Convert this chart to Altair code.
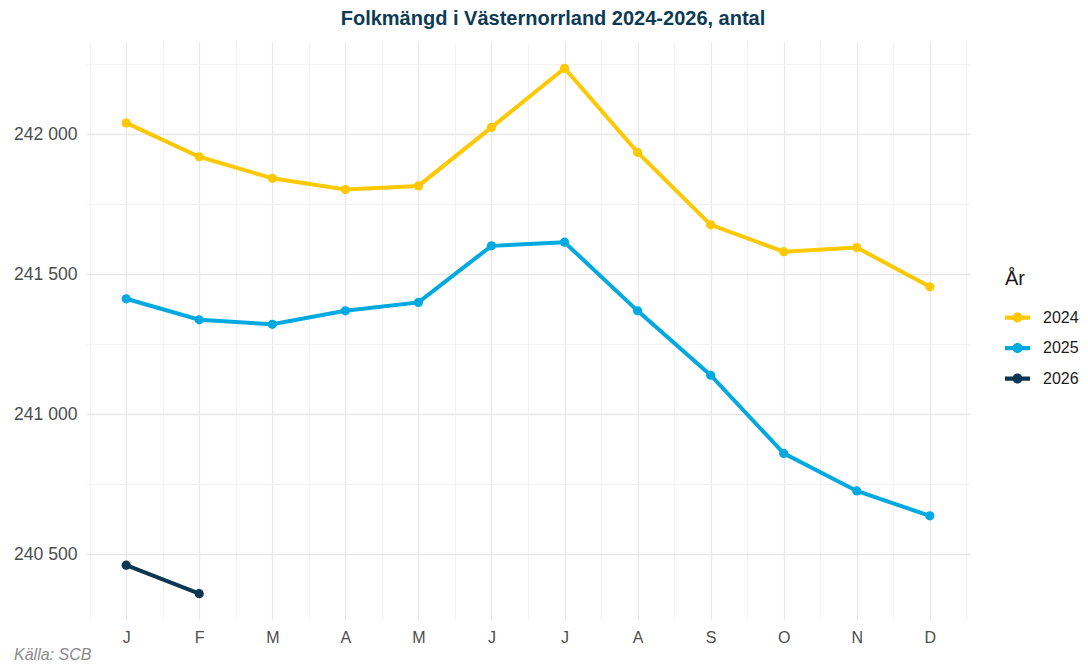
import altair as alt
import pandas as pd

months = ["J", "F", "M", "A", "M", "J", "J", "A", "S", "O", "N", "D"]
years = ["2024", "2025", "2026"]
v2024 = [242040, 241919, 241842, 241802, 241815, 242024, 242235, 241935, 241676, 241580, 241595, 241455]
v2025 = [241412, 241337, 241321, 241369, 241399, 241601, 241614, 241369, 241139, 240860, 240726, 240637]
v2026 = [240461, 240359]
colors = ["#FFC800", "#00A9E0", "#0C3651"]

rows = []
for yr, vals in zip(years, [v2024, v2025, v2026]):
    for i, v in enumerate(vals):
        rows.append({"m": i + 1, "value": v, "year": yr})
df = pd.DataFrame(rows)

allv = v2024 + v2025 + v2026
rng = max(allv) - min(allv)
ydom = [min(allv) - 0.05 * rng, max(allv) + 0.05 * rng]

W, H = 884, 578
FONT = "Liberation Sans"

month_js = "[" + ",".join("'" + m + "'" for m in months) + "]"
xvals = [0.5 + 0.5 * i for i in range(25)]
yvals = [240500 + 250 * i for i in range(8)]

x_axis = alt.Axis(
    values=xvals,
    labelExpr="datum.value % 1 === 0 ? " + month_js + "[datum.value - 1] : ''",
    title=None, ticks=False, domain=False, labelFlush=False, labelOverlap=False,
    labelFontSize=16, labelColor="#4d4d4d", labelPadding=9, labelFont=FONT,
    gridColor={"condition": {"test": "datum.value % 1 === 0", "value": "#e8e8e8"}, "value": "#f0f0f0"},
    gridWidth={"condition": {"test": "datum.value % 1 === 0", "value": 1.3}, "value": 0.8},
)
y_axis = alt.Axis(
    values=yvals,
    labelExpr="datum.value % 500 === 0 ? replace(format(datum.value, ','), ',', ' ') : ''",
    title=None, ticks=False, domain=False, labelOverlap=False, labelFlush=False,
    labelFontSize=17.6, labelColor="#4d4d4d", labelPadding=9, labelFont=FONT,
    gridColor={"condition": {"test": "datum.value % 500 === 0", "value": "#e8e8e8"}, "value": "#f0f0f0"},
    gridWidth={"condition": {"test": "datum.value % 500 === 0", "value": 1.3}, "value": 0.8},
)

xenc = alt.X("m:Q", scale=alt.Scale(domain=[0.45, 12.55], nice=False, zero=False), axis=x_axis)
yenc = alt.Y("value:Q", scale=alt.Scale(domain=ydom, nice=False, zero=False), axis=y_axis)
cscale = alt.Scale(domain=years, range=colors)

sym = "M-1,-0.17H1V0.17H-1Z M0.4,0A0.4,0.4,0,1,1,-0.4,0A0.4,0.4,0,1,1,0.4,0Z"

legend = alt.Legend(
    title="År", orient="none", legendX=919, legendY=227,
    titleFontSize=20, titleFontWeight="normal", titleColor="#1a1a1a", titleFont=FONT,
    titlePadding=16,
    labelFontSize=16, labelColor="#1a1a1a", labelFont=FONT, labelOffset=13,
    symbolType=sym, symbolSize=625, symbolStrokeWidth=0, symbolOpacity=1,
    rowPadding=9.5,
)

base = alt.Chart(df)
lines = base.mark_line(strokeWidth=4).encode(
    x=xenc, y=yenc, color=alt.Color("year:N", scale=cscale, legend=legend)
)
points = base.mark_point(filled=True, size=85, opacity=1).encode(
    x=xenc, y=yenc,
    color=alt.Color("year:N", scale=cscale, legend=legend),
)

caption = alt.Chart(pd.DataFrame({"t": ["Källa: SCB"]})).mark_text(
    align="left", baseline="alphabetic", fontStyle="italic", fontSize=16,
    color="#8a8a8a", font=FONT,
).encode(x=alt.value(-72), y=alt.value(H + 40), text="t:N")

chart = alt.layer(lines, points, caption).properties(
    width=W, height=H,
    background="white",
    title=alt.TitleParams(
        "Folkmängd i Västernorrland 2024-2026, antal",
        fontSize=20, fontWeight="bold", color="#0d3b54", font=FONT,
        anchor="middle", dx=25, dy=20, offset=17, baseline="alphabetic",
    ),
    autosize=alt.AutoSizeParams(type="none"),
    padding={"left": 78, "top": 34, "right": 110, "bottom": 44},
).configure_view(stroke="transparent", strokeWidth=0)

chart.save("out.html", embed_options={"renderer": "svg", "actions": False})
